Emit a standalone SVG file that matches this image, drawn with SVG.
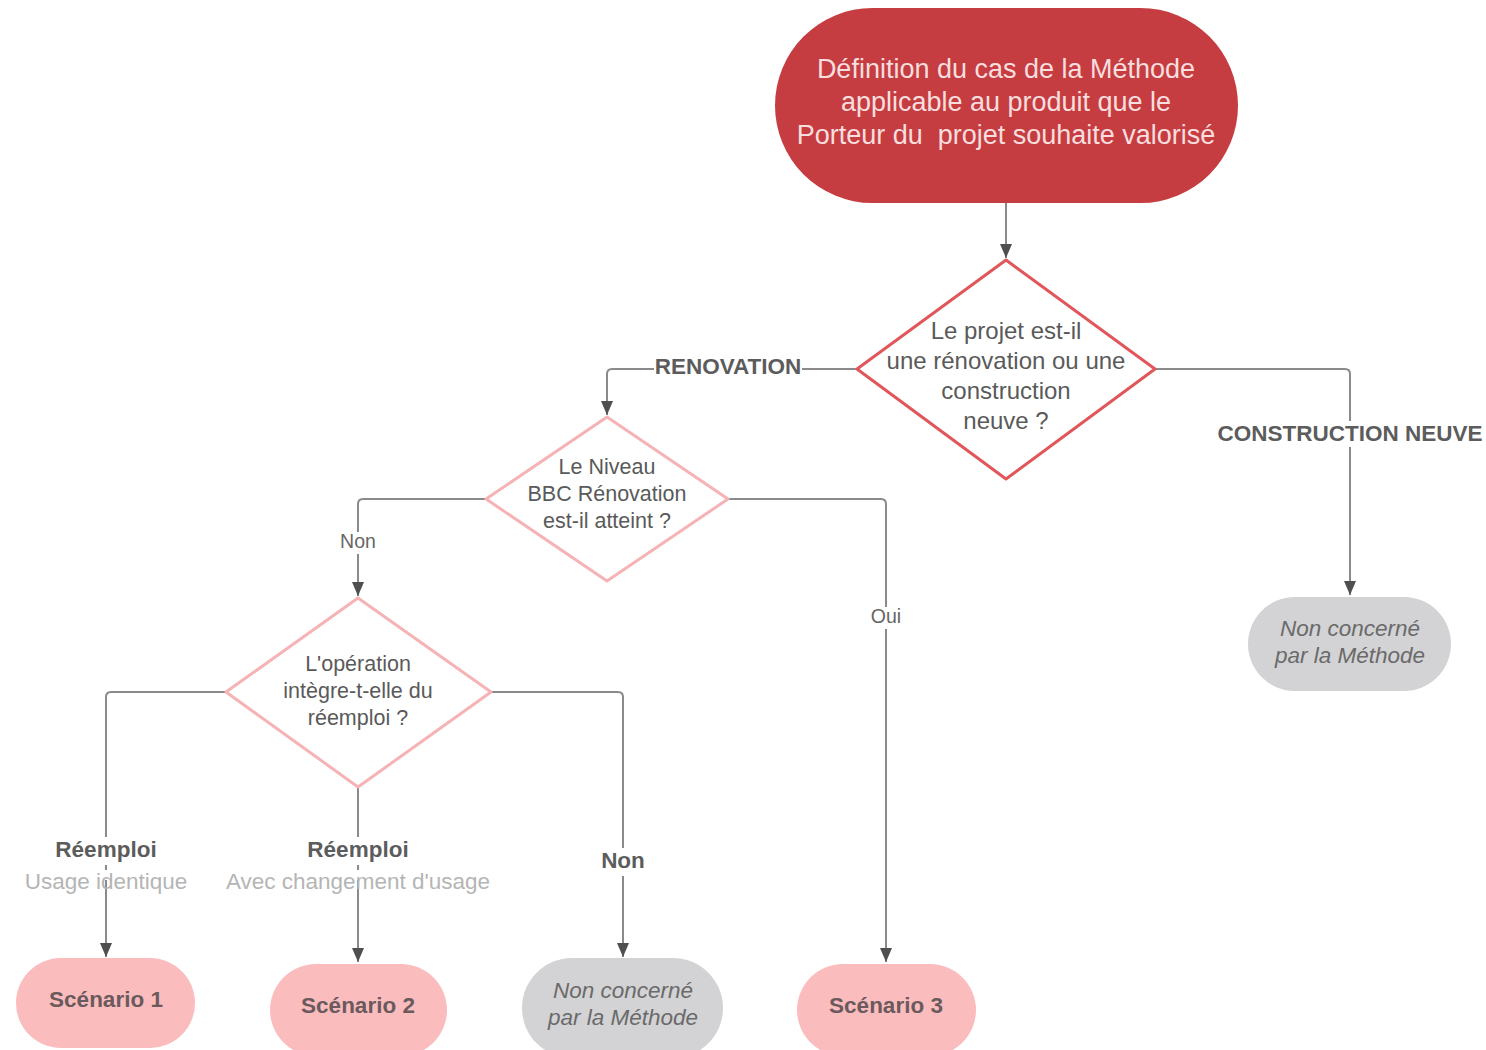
<svg xmlns="http://www.w3.org/2000/svg" width="1486" height="1050" viewBox="0 0 1486 1050">
<defs>
<marker id="arr" markerWidth="14" markerHeight="12" refX="14" refY="6" orient="auto" markerUnits="userSpaceOnUse" viewBox="0 0 14 12">
<path d="M0,0 L14,6 L0,12 Z" fill="#4f4f4f"/>
</marker>
<style>
.ln{fill:none;stroke:#8a8a8a;stroke-width:2}
.t{font-family:"Liberation Sans",Arial,sans-serif;text-anchor:middle;dominant-baseline:middle}
.q{fill:#5a5a5a;font-size:24px}
.q2{fill:#5a5a5a;font-size:21.5px}
.lbl{fill:#5c5c5c;font-size:22.5px;font-weight:bold}
.sub{fill:#b5b5b5;font-size:22.5px}
.sm{fill:#666;font-size:19.5px}
.scen{fill:#fbbcbe}
.scn{fill:#6b5a5c;font-size:22.5px;font-weight:bold}
.gray{fill:#d3d3d5}
.gt{fill:#6a6a6a;font-size:22.5px;font-style:italic}
.bg{fill:#fff}
</style>
</defs>
<rect width="1486" height="1050" fill="#fff"/>

<g id="connectors">
<path class="ln" d="M1006,203 V258" marker-end="url(#arr)"/>
<path class="ln" d="M857,369 H612 Q607,369 607,374 V415" marker-end="url(#arr)"/>
<path class="ln" d="M1155,369 H1345 Q1350,369 1350,374 V595" marker-end="url(#arr)"/>
<path class="ln" d="M486,499 H363 Q358,499 358,504 V596" marker-end="url(#arr)"/>
<path class="ln" d="M728,499 H881 Q886,499 886,504 V962" marker-end="url(#arr)"/>
<path class="ln" d="M226,692 H111 Q106,692 106,697 V957" marker-end="url(#arr)"/>
<path class="ln" d="M358,788 V962" marker-end="url(#arr)"/>
<path class="ln" d="M491,692 H618 Q623,692 623,697 V957" marker-end="url(#arr)"/>
<rect class="bg" x="654" y="354" width="148" height="26"/>
<text class="t lbl" x="728" y="368">RENOVATION</text>
<rect class="bg" x="1217" y="421" width="266" height="26"/>
<text class="t lbl" x="1350" y="435">CONSTRUCTION NEUVE</text>
<rect class="bg" x="338" y="532" width="42" height="22"/>
<text class="t sm" x="358" y="543">Non</text>
<rect class="bg" x="866" y="607" width="40" height="22"/>
<text class="t sm" x="886" y="618">Oui</text>
<rect class="bg" x="48" y="837" width="116" height="28"/>
<text class="t lbl" x="106" y="851">Réemploi</text>
<rect class="bg" x="24" y="870" width="164" height="10"/>
<text class="t sub" x="106" y="883">Usage identique</text>
<rect class="bg" x="300" y="837" width="116" height="28"/>
<text class="t lbl" x="358" y="851">Réemploi</text>
<rect class="bg" x="226" y="870" width="266" height="10"/>
<text class="t sub" x="358" y="883">Avec changement d'usage</text>
<rect class="bg" x="598" y="848" width="50" height="28"/>
<text class="t lbl" x="623" y="862">Non</text>
</g>

<g id="start">
<rect x="775" y="8" width="463" height="195" rx="97.5" fill="#c63d41"/>
<text class="t" x="1006" y="71" fill="#f8dede" font-size="27">Définition du cas de la Méthode</text>
<text class="t" x="1006" y="104" fill="#f8dede" font-size="27">applicable au produit que le</text>
<text class="t" x="1006" y="137" fill="#f8dede" font-size="27" xml:space="preserve">Porteur du  projet souhaite valorisé</text>
</g>

<g id="decision1">
<path d="M1006,260 L1155,369 L1006,479 L857,369 Z" fill="#fff" stroke="#e0565b" stroke-width="3" stroke-linejoin="round"/>
<text class="t q" x="1006" y="333">Le projet est-il</text>
<text class="t q" x="1006" y="363">une rénovation ou une</text>
<text class="t q" x="1006" y="393">construction</text>
<text class="t q" x="1006" y="423">neuve ?</text>
</g>

<g id="decision2">
<path d="M607,417 L728,499 L607,581 L486,499 Z" fill="#fff" stroke="#f6b3b5" stroke-width="3" stroke-linejoin="round"/>
<text class="t q2" x="607" y="468">Le Niveau</text>
<text class="t q2" x="607" y="495">BBC Rénovation</text>
<text class="t q2" x="607" y="522">est-il atteint ?</text>
</g>

<g id="decision3">
<path d="M358,598 L491,692 L358,787 L226,692 Z" fill="#fff" stroke="#f6b3b5" stroke-width="3" stroke-linejoin="round"/>
<text class="t q2" x="358" y="665">L'opération</text>
<text class="t q2" x="358" y="692">intègre-t-elle du</text>
<text class="t q2" x="358" y="719">réemploi ?</text>
</g>

<g id="non-concerne-1">
<rect class="gray" x="1248" y="597" width="203" height="94" rx="47"/>
<text class="t gt" x="1350" y="630">Non concerné</text>
<text class="t gt" x="1350" y="657">par la Méthode</text>
</g>

<g id="scenario1">
<rect class="scen" x="16" y="958" width="179" height="90" rx="45"/>
<text class="t scn" x="106" y="1001">Scénario 1</text>
</g>

<g id="scenario2">
<rect class="scen" x="270" y="964" width="177" height="92" rx="46"/>
<text class="t scn" x="358" y="1007">Scénario 2</text>
</g>

<g id="non-concerne-2">
<rect class="gray" x="522" y="958" width="201" height="100" rx="50"/>
<text class="t gt" x="623" y="992">Non concerné</text>
<text class="t gt" x="623" y="1019">par la Méthode</text>
</g>

<g id="scenario3">
<rect class="scen" x="797" y="964" width="179" height="92" rx="46"/>
<text class="t scn" x="886" y="1007">Scénario 3</text>
</g>
</svg>
